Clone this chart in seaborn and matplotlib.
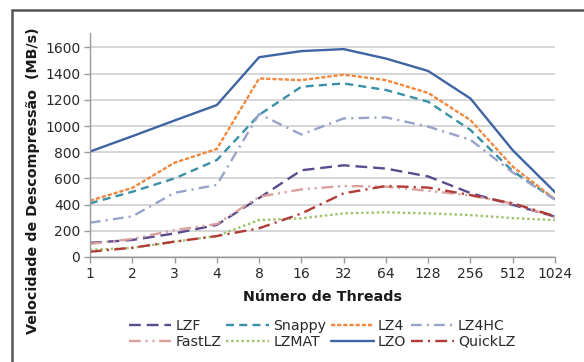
import numpy as np
import pandas as pd
import matplotlib
matplotlib.use("Agg")
import matplotlib.pyplot as plt
from matplotlib.lines import Line2D
import seaborn as sns

# Thread counts on the horizontal (category) axis
threads = ["1", "2", "3", "4", "8", "16", "32", "64", "128", "256", "512", "1024"]

# Decompression speed per library (MB/s)
lzf      = [108, 130, 180, 245, 450, 662, 700, 675, 615, 488, 398, 308]
snappy   = [410, 498, 600, 740, 1085, 1300, 1325, 1275, 1185, 970, 655, 440]
lz4      = [430, 527, 720, 825, 1363, 1350, 1392, 1350, 1252, 1045, 690, 440]
lz4hc    = [262, 310, 490, 550, 1092, 935, 1058, 1066, 995, 895, 645, 438]
fastlz   = [100, 138, 205, 252, 460, 516, 542, 537, 505, 470, 408, 305]
lzmat    = [55, 69, 117, 160, 282, 295, 333, 341, 333, 320, 297, 282]
lzo      = [805, 922, 1042, 1160, 1525, 1572, 1587, 1515, 1420, 1210, 815, 495]
quicklz  = [40, 71, 117, 160, 219, 332, 486, 542, 530, 473, 410, 312]

names = ["LZF", "Snappy", "LZ4", "LZ4HC", "FastLZ", "LZMAT", "LZO", "QuickLZ"]
series = [lzf, snappy, lz4, lz4hc, fastlz, lzmat, lzo, quicklz]

colors = {
    "LZF": "#5b4a8c",
    "Snappy": "#3a90a6",
    "LZ4": "#f0883e",
    "LZ4HC": "#97a3c9",
    "FastLZ": "#d9a09d",
    "LZMAT": "#9dc06a",
    "LZO": "#3f64a3",
    "QuickLZ": "#b23b37",
}
dashes = {
    "LZF": (5.0, 2.5),
    "Snappy": (3.4, 2.2),
    "LZ4": (1.8, 0.8),
    "LZ4HC": (4.5, 2.2, 0.9, 2.2),
    "FastLZ": (5.0, 2.0, 0.9, 2.0, 0.9, 2.0),
    "LZMAT": (1.0, 1.2),
    "LZO": "",
    "QuickLZ": (5.0, 2.2, 0.9, 2.2),
}
LW = 1.7

rows = []
for name, vals in zip(names, series):
    for i, v in enumerate(vals):
        rows.append({"pos": i, "threads": threads[i], "speed": v, "lib": name})
df = pd.DataFrame(rows)

sns.set_theme(style="white")
plt.rcParams["font.family"] = ["DejaVu Sans"]

fig = plt.figure(figsize=(5.84, 3.62), dpi=100)
ax = fig.add_axes([90 / 584, 1 - 257 / 362, (555 - 90) / 584, (257 - 33) / 362])

sns.lineplot(
    data=df, x="pos", y="speed", hue="lib", style="lib",
    hue_order=names, style_order=names,
    palette=colors, dashes=dashes, linewidth=LW, ax=ax, legend=False,
    sort=False,
)

ax.set_xlim(0, len(threads) - 1)
ax.set_ylim(0, 1710)
ax.set_yticks(np.arange(0, 1601, 200))
ax.set_xticks(np.arange(len(threads)))
ax.set_xticklabels(threads)
ax.yaxis.grid(True, color="#cfcfcf", linewidth=1.2)
ax.xaxis.grid(False)
ax.set_axisbelow(True)
for s in ["top", "right"]:
    ax.spines[s].set_visible(False)
for s in ["left", "bottom"]:
    ax.spines[s].set_color("#9a9a9a")
    ax.spines[s].set_linewidth(1.0)
ax.tick_params(axis="both", which="major", direction="out", length=4,
               width=1.0, color="#9a9a9a", labelsize=10, labelcolor="#2a2a2a",
               bottom=True, left=True, pad=3)

ax.set_ylabel("")
ax.set_xlabel("Número de Threads", fontsize=10.3, fontweight="bold",
              color="#1a1a1a", labelpad=7)
fig.text(33 / 584, 1 - 181 / 362, "Velocidade de Descompressão  (MB/s)",
         rotation=90, ha="center", va="center", fontsize=10.3,
         fontweight="bold", color="#1a1a1a")

# Legend: two rows of four, filled column by column
handles = {}
for name in names:
    d = dashes[name]
    kw = dict(color=colors[name], linewidth=LW)
    if d:
        kw["dashes"] = d
    handles[name] = Line2D([], [], **kw)
order = ["LZF", "FastLZ", "Snappy", "LZMAT", "LZ4", "LZO", "LZ4HC", "QuickLZ"]
fig.legend([handles[n] for n in order], order, ncol=4,
           loc="center", bbox_to_anchor=(322 / 584, 1 - 334 / 362),
           frameon=False, fontsize=10.2, handlelength=3.0, handletextpad=0.3,
           columnspacing=0.35, labelspacing=0.1, borderpad=0.1,
           labelcolor="#2a2a2a")

# Outer frame (top and left edges)
fig.add_artist(Line2D([12 / 584, 1.0], [1 - 9.5 / 362, 1 - 9.5 / 362],
                      transform=fig.transFigure, color="#555555", linewidth=1.8))
fig.add_artist(Line2D([12 / 584, 12 / 584], [0.0, 1 - 9.5 / 362],
                      transform=fig.transFigure, color="#555555", linewidth=1.8))

fig.savefig("out.png", dpi=100)
